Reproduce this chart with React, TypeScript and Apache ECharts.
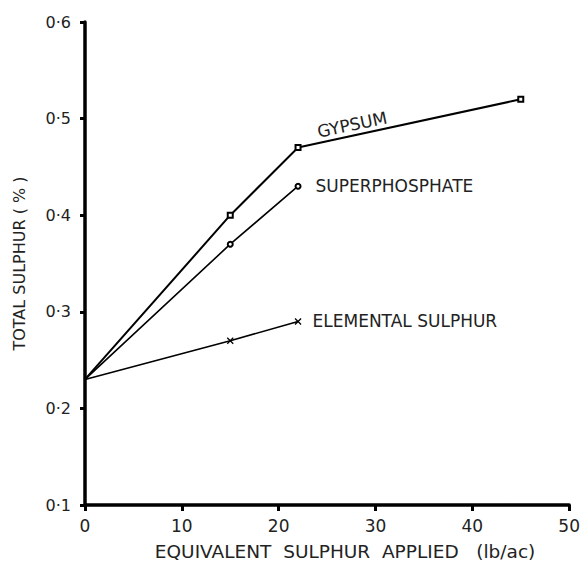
import React, { useEffect, useRef } from "react";
import * as echarts from "echarts";

const xTicks = [0, 10, 20, 30, 40, 50];
const yTicks = [0.1, 0.2, 0.3, 0.4, 0.5, 0.6];

const gypsumX = [0, 15, 22, 45];
const gypsumY = [0.23, 0.4, 0.47, 0.52];

const superX = [0, 15, 22];
const superY = [0.23, 0.37, 0.43];

const elementalX = [0, 15, 22];
const elementalY = [0.23, 0.27, 0.29];

const seriesNames = ["GYPSUM", "SUPERPHOSPHATE", "ELEMENTAL SULPHUR"];

const FONT = "'DejaVu Sans', 'Open Sans', sans-serif";
const WEIGHT = "normal";
const TEXT = "#222";

export default function App() {
  const ref = useRef<HTMLDivElement>(null);
  useEffect(() => {
    if (!ref.current) return;
    const chart = echarts.init(ref.current, undefined, { renderer: "svg" });
    const fmt = (v: number) => v.toFixed(1).replace(".", "·");

    const build = (xs: number[], ys: number[], labelIdx: number, label: any) =>
      xs.map((x, i) => {
        const d: any = { value: [x, ys[i]] };
        if (i === 0) d.symbol = "none";
        if (i === labelIdx) d.label = label;
        return d;
      });

    const labelStyle = {
      show: true,
      color: TEXT,
      fontFamily: FONT,
      fontWeight: WEIGHT,
      fontSize: 17,
    };

    chart.setOption({
      animation: false,
      backgroundColor: "#fff",
      grid: { left: 85, right: 13, top: 22, bottom: 63 },
      xAxis: {
        type: "value",
        min: xTicks[0],
        max: xTicks[xTicks.length - 1],
        interval: 10,
        name: "EQUIVALENT  SULPHUR  APPLIED   (lb/ac)",
        nameLocation: "middle",
        nameGap: 37,
        nameTextStyle: {
          color: TEXT,
          fontFamily: FONT,
          fontWeight: WEIGHT,
          fontSize: 18.5,
          padding: [0, 0, 0, 36],
        },
        axisLine: { lineStyle: { color: "#000", width: 3.5 } },
        axisTick: { show: true, length: 6, lineStyle: { color: "#000", width: 3 } },
        axisLabel: { color: TEXT, fontFamily: FONT, fontWeight: WEIGHT, fontSize: 17, margin: 12 },
        splitLine: { show: false },
      },
      yAxis: {
        type: "value",
        min: yTicks[0],
        max: yTicks[yTicks.length - 1],
        interval: 0.1,
        name: "TOTAL SULPHUR ( % )",
        nameLocation: "middle",
        nameGap: 58,
        nameRotate: 90,
        nameTextStyle: { color: TEXT, fontFamily: FONT, fontWeight: WEIGHT, fontSize: 16 },
        axisLine: { lineStyle: { color: "#000", width: 3.5 } },
        axisTick: { show: true, length: 5, lineStyle: { color: "#000", width: 3 } },
        axisLabel: {
          color: TEXT,
          fontFamily: FONT,
          fontWeight: WEIGHT,
          fontSize: 16,
          margin: 14,
          formatter: fmt,
        },
        splitLine: { show: false },
      },
      series: [
        {
          name: seriesNames[0],
          type: "line",
          symbol: "emptyRect",
          symbolSize: 5,
          lineStyle: { color: "#000", width: 2 },
          itemStyle: { color: "#000", borderWidth: 1.2 },
          data: build(gypsumX, gypsumY, 2, {
            ...labelStyle,
            formatter: seriesNames[0],
            position: "right",
            rotate: 12,
            offset: [14, -13],
          }),
        },
        {
          name: seriesNames[1],
          type: "line",
          symbol: "emptyCircle",
          symbolSize: 5,
          lineStyle: { color: "#000", width: 1.6 },
          itemStyle: { color: "#000", borderWidth: 1.2 },
          data: build(superX, superY, 2, {
            ...labelStyle,
            formatter: seriesNames[1],
            position: "right",
            distance: 14,
          }),
        },
        {
          name: seriesNames[2],
          type: "line",
          symbol: "path://M0,0L10,10M10,0L0,10",
          symbolSize: 6,
          lineStyle: { color: "#000", width: 1.6 },
          itemStyle: { color: "none", borderColor: "#000", borderWidth: 1.3 },
          data: build(elementalX, elementalY, 2, {
            ...labelStyle,
            formatter: seriesNames[2],
            position: "right",
            distance: 9,
          }),
        },
      ],
    });
    return () => chart.dispose();
  }, []);
  return (
    <div
      ref={ref}
      style={{ position: "fixed", left: 0, top: 0, width: 583, height: 568 }}
    />
  );
}
